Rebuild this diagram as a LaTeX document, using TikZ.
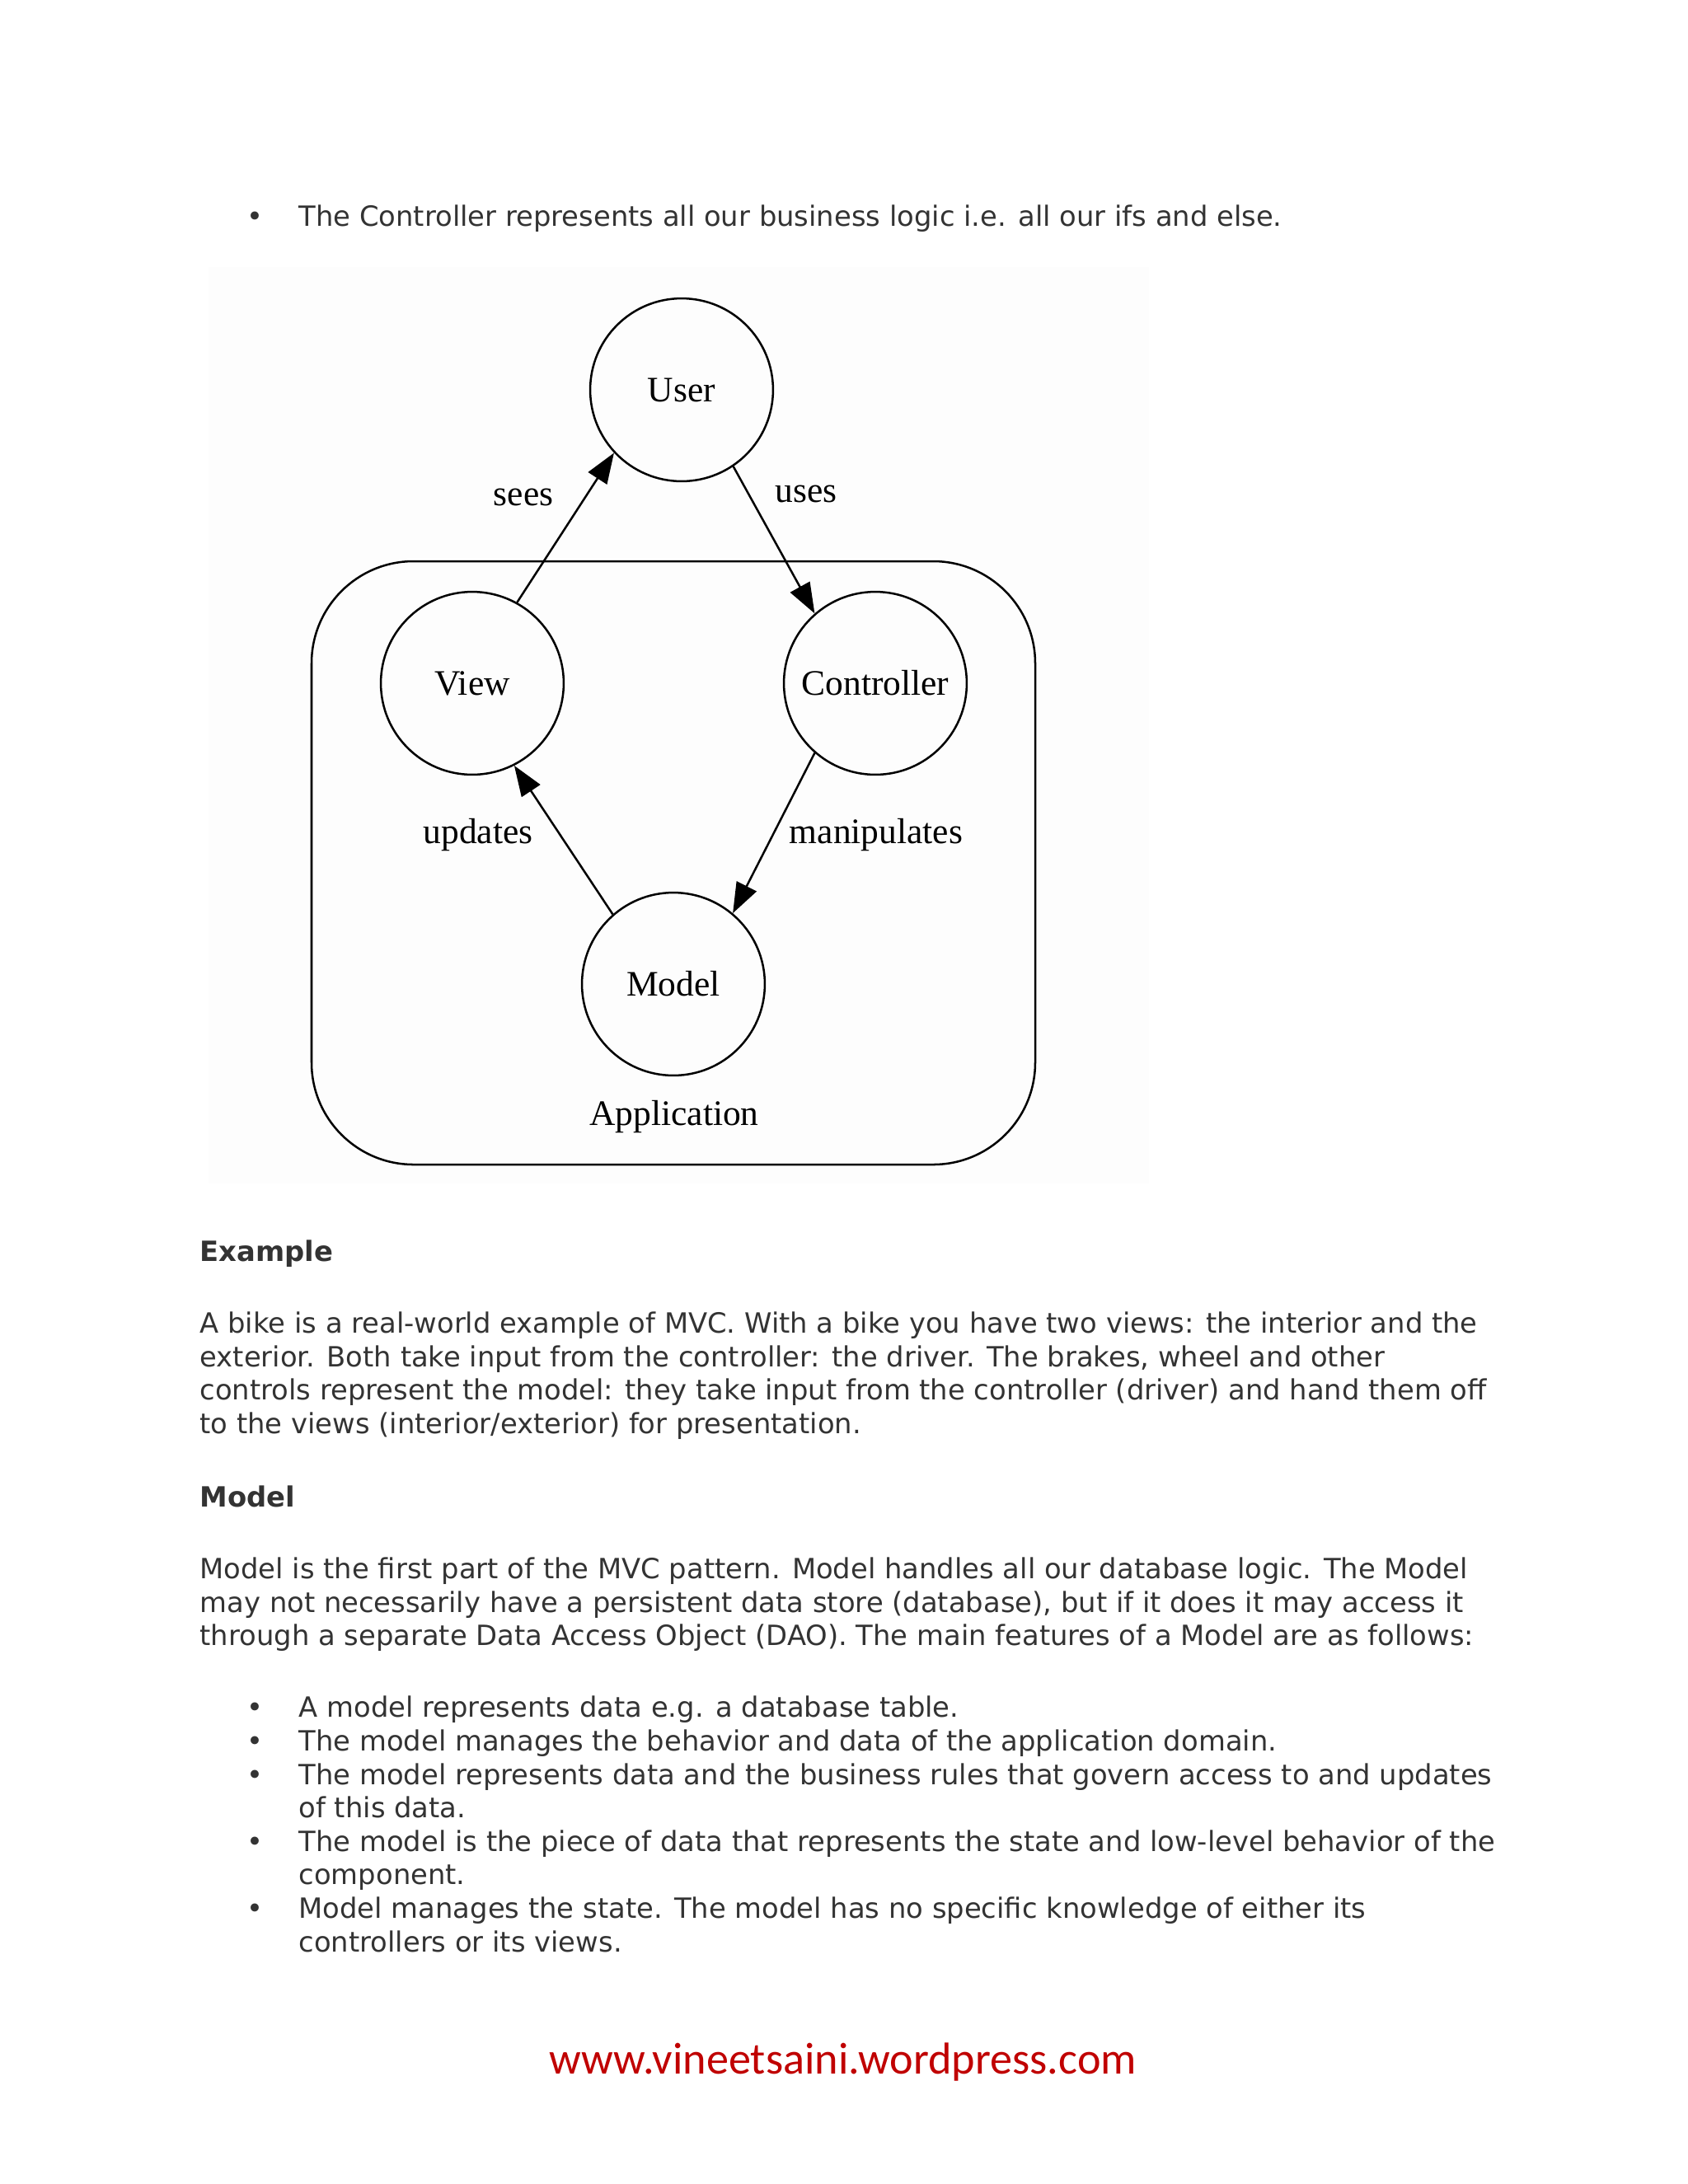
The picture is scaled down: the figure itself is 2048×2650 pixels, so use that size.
\documentclass[tikz,border=0pt]{standalone}
\usepackage{fontspec}
\setmainfont{DejaVu Sans}
\newfontfamily\diagfont{Liberation Serif}
\newfontfamily\footfont{Carlito}
\usetikzlibrary{arrows.meta}
\definecolor{bodytext}{HTML}{333333}
\definecolor{footred}{HTML}{C00000}
\definecolor{diagbg}{HTML}{FDFDFD}
\begin{document}
\begin{tikzpicture}[x=0.29883pt,y=-0.29883pt,
  bodyline/.style={anchor=base west,inner sep=0,text=bodytext,font=\fontsize{10.1}{12}\selectfont},
  headline/.style={anchor=base west,inner sep=0,text=bodytext,font=\fontsize{10.1}{12}\selectfont\bfseries},
  bulletdot/.style={anchor=base,inner sep=0,text=bodytext,font=\fontsize{10.1}{12}\selectfont},
  circnode/.style={circle,draw,line width=0.75pt,minimum size=66.3pt,inner sep=0,font=\diagfont\fontsize{13}{15}\selectfont},
  elabel/.style={inner sep=0,font=\diagfont\fontsize{13}{15}\selectfont},
  conn/.style={line width=0.75pt,-{Triangle[length=11pt,width=8pt]}}]
\useasboundingbox (0,0) rectangle (2048,2650);
\fill[white] (0,0) rectangle (2048,2650);
% diagram background
\fill[diagbg] (253,324) rectangle (1394,1436);
% top bullet
\node[bulletdot] (b0) at (309,274) {\textbullet};
\node[bodyline] (t0) at (362,274) {The Controller represents all our business logic i.e. all our ifs and else.};
% diagram
\draw[line width=0.75pt,rounded corners=37pt] (378,681) rectangle (1256,1413);
\node[circnode] (user) at (827,473) {User};
\node[circnode] (view) at (573,829) {View};
\node[circnode] (ctrl) at (1062,829) {Controller};
\node[circnode] (model) at (817,1194) {Model};
\draw[conn] (view.61) -- (user.223);
\draw[conn] (user.304) -- (ctrl.131);
\draw[conn] (ctrl.229) -- (model.50);
\draw[conn] (model.131) -- (view.297);
\node[elabel] (lsees) at (635,603) {sees};
\node[elabel] (luses) at (978,599) {uses};
\node[elabel] (lupd) at (580,1013) {updates};
\node[elabel] (lman) at (1063,1013) {manipulates};
\node[elabel] (lapp) at (818,1355) {Application};
% Example
\node[headline] (h1) at (242,1530) {Example};
\node[bodyline] (p1a) at (242,1617) {A bike is a real-world example of MVC. With a bike you have two views: the interior and the};
\node[bodyline] (p1b) at (242,1658) {exterior. Both take input from the controller: the driver. The brakes, wheel and other};
\node[bodyline] (p1c) at (242,1698) {controls represent the model: they take input from the controller (driver) and hand them off};
\node[bodyline] (p1d) at (242,1739) {to the views (interior/exterior) for presentation.};
% Model
\node[headline] (h2) at (242,1828) {Model};
\node[bodyline] (p2a) at (242,1915) {Model is the first part of the MVC pattern. Model handles all our database logic. The Model};
\node[bodyline] (p2b) at (242,1956) {may not necessarily have a persistent data store (database), but if it does it may access it};
\node[bodyline] (p2c) at (242,1996) {through a separate Data Access Object (DAO). The main features of a Model are as follows:};
% bullets
\node[bulletdot] (d1) at (309,2083) {\textbullet};
\node[bodyline] (l1) at (362,2083) {A model represents data e.g. a database table.};
\node[bulletdot] (d2) at (309,2124) {\textbullet};
\node[bodyline] (l2) at (362,2124) {The model manages the behavior and data of the application domain.};
\node[bulletdot] (d3) at (309,2165) {\textbullet};
\node[bodyline] (l3) at (362,2165) {The model represents data and the business rules that govern access to and updates};
\node[bodyline] (l3b) at (362,2205) {of this data.};
\node[bulletdot] (d4) at (309,2246) {\textbullet};
\node[bodyline] (l4) at (362,2246) {The model is the piece of data that represents the state and low-level behavior of the};
\node[bodyline] (l4b) at (362,2286) {component.};
\node[bulletdot] (d5) at (309,2327) {\textbullet};
\node[bodyline] (l5) at (362,2327) {Model manages the state. The model has no specific knowledge of either its};
\node[bodyline] (l5b) at (362,2368) {controllers or its views.};
% footer
\node[inner sep=0,text=footred,font=\footfont\fontsize{16.2}{19}\selectfont] (foot) at (1023,2502) {www.vineetsaini.wordpress.com};
\end{tikzpicture}
\end{document}
